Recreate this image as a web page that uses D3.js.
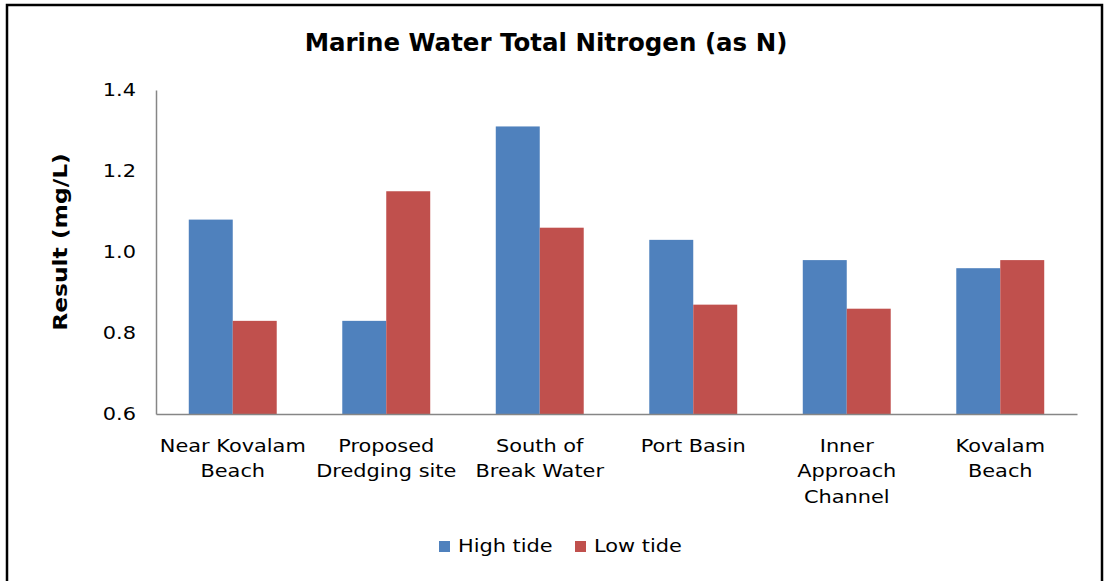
<!DOCTYPE html>
<html>
<head>
<meta charset="utf-8">
<script src="https://cdn.jsdelivr.net/npm/d3@7"></script>
<style>
  html, body { margin: 0; padding: 0; background: #fff; }
  svg { display: block; }
  text { font-family: "DejaVu Sans", Verdana, sans-serif; fill: #000; }
</style>
</head>
<body>
<svg id="chart" width="1108" height="581"></svg>
<script>
const categories = ["Near Kovalam\nBeach", "Proposed\nDredging site", "South of\nBreak Water", "Port Basin", "Inner\nApproach\nChannel", "Kovalam\nBeach"];
const seriesNames = ["High tide", "Low tide"];
const highTide = [1.08, 0.83, 1.31, 1.03, 0.98, 0.96];
const lowTide  = [0.83, 1.15, 1.06, 0.87, 0.86, 0.98];
const yTicks = [0.6, 0.8, 1.0, 1.2, 1.4];
const colors = ["#4F81BD", "#C0504D"];
const title = "Marine Water Total Nitrogen (as N)";
const yTitle = "Result (mg/L)";

const svg = d3.select("#chart");
const W = 1108, H = 581;
const m = { left: 156, right: 1077, top: 90, bottom: 414 };
const S = 1.16; // horizontal stretch of body text

svg.append("rect").attr("width", W).attr("height", H).attr("fill", "#fff");
svg.append("rect")
  .attr("x", 7).attr("y", 5).attr("width", 1095).attr("height", 600)
  .attr("fill", "none").attr("stroke", "#000").attr("stroke-width", 2.5);

const x0 = d3.scaleBand().domain(d3.range(categories.length)).range([m.left, m.right]).paddingInner(0.427).paddingOuter(0.2135);
const x1 = d3.scaleBand().domain(d3.range(seriesNames.length)).range([0, x0.bandwidth()]);
const y = d3.scaleLinear().domain([0.6, 1.4]).range([m.bottom, m.top]);

const data = [highTide, lowTide];

// bars
const groups = svg.append("g").selectAll("g").data(categories).join("g")
  .attr("transform", (d, i) => `translate(${x0(i)},0)`);
groups.selectAll("rect").data((d, i) => data.map((s, j) => ({ s: j, v: s[i] }))).join("rect")
  .attr("x", d => x1(d.s))
  .attr("y", d => y(d.v))
  .attr("width", x1.bandwidth())
  .attr("height", d => y(0.6) - y(d.v))
  .attr("fill", d => colors[d.s]);

// y axis
const yAxis = d3.axisLeft(y).tickValues(yTicks).tickFormat(d3.format(".1f")).tickSize(0).tickPadding(20);
const gy = svg.append("g").attr("transform", `translate(${m.left},0)`).call(yAxis);
gy.select(".domain").attr("stroke", "#868686").attr("stroke-width", 1.5);
gy.selectAll("text").attr("font-size", 18).attr("fill", "#000")
  .attr("font-family", '"DejaVu Sans", Verdana, sans-serif')
  .attr("x", -20 / S).attr("transform", `scale(${S},1)`);

// x axis
const xAxis = d3.axisBottom(x0).tickSize(0).tickFormat("");
const gx = svg.append("g").attr("transform", `translate(0,${m.bottom})`).call(xAxis);
gx.select(".domain").attr("stroke", "#868686").attr("stroke-width", 1.5);
gx.selectAll(".tick").each(function(d, i) {
  const lines = categories[i].split("\n");
  const t = d3.select(this).append("text")
    .attr("text-anchor", "middle").attr("font-size", 18).attr("fill", "#000")
    .attr("transform", `scale(${S},1)`);
  lines.forEach((ln, k) => {
    t.append("tspan").attr("x", 0).attr("y", 38 + k * 25.5).text(ln);
  });
});

// title
svg.append("text").attr("transform", "translate(546,51) scale(1.02,1)").attr("text-anchor", "middle")
  .attr("font-size", 24).attr("font-weight", "bold").text(title);

// y title
svg.append("text").attr("transform", "translate(67,242) rotate(-90) scale(1.23,1)")
  .attr("text-anchor", "middle").attr("font-size", 19).attr("font-weight", "bold").text(yTitle);

// legend
const legX = [439, 575];
const leg = svg.append("g").selectAll("g").data(seriesNames).join("g")
  .attr("transform", (d, i) => `translate(${legX[i]},541)`);
leg.append("rect").attr("width", 11).attr("height", 11).attr("y", 0).attr("fill", (d, i) => colors[i]);
leg.append("text").attr("transform", `translate(19,11) scale(${S},1)`).attr("font-size", 18).text(d => d);
</script>
</body>
</html>
